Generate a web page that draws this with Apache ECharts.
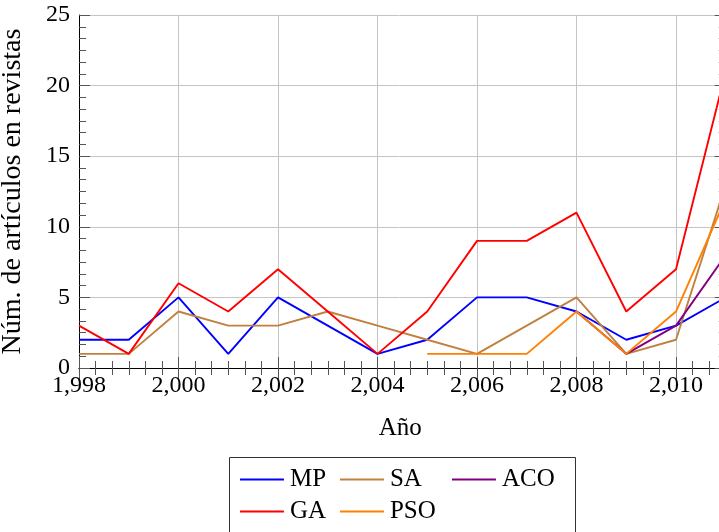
<!DOCTYPE html>
<html><head><meta charset="utf-8">
<script src="https://cdn.jsdelivr.net/npm/echarts@6/dist/echarts.min.js"></script>
<style>html,body{margin:0;padding:0;background:#fff}#c{width:719px;height:532px}</style>
</head><body><div id="c"></div>
<script>
const years = [1998,1999,2000,2001,2002,2003,2004,2005,2006,2007,2008,2009,2010,2011];
const MP  = [2,2,5,1,5,3,1,2,5,5,4,2,3,5];
const SA  = [1,1,4,3,3,4,3,2,1,3,5,1,2,13];
const ACO = [null,null,null,null,null,null,null,null,null,null,4,1,3,8];
const GA  = [3,1,6,4,7,4,1,4,9,9,11,4,7,21];
const PSO = [null,null,null,null,null,null,null,1,1,1,4,1,4,12];
const yTicks = [0,5,10,15,20,25];

const FONT = '"Liberation Serif", "Times New Roman", serif';
const chart = echarts.init(document.getElementById('c'), null, {renderer:'canvas'});
const fmt = v => String(v).replace(/\B(?=(\d{3})+(?!\d))/g, ',');
const mk = (name, arr, color) => ({
  name, type:'line', data: years.map((y,i)=>[y, arr[i]]),
  symbol:'none', lineStyle:{color, width:1.9}, itemStyle:{color},
  connectNulls:false, clip:true, animation:false
});
const tickCommon = {
  axisLine:{show:true, lineStyle:{color:'#000', width:1}},
  axisTick:{show:true, inside:true, length:11, lineStyle:{color:'#555', width:1}},
  minorTick:{show:true, splitNumber:6, length:7, lineStyle:{color:'#555', width:1}}
};
const legendItem = (name, left, top) => ({
  data:[name], left, top, padding:0, itemWidth:44, itemHeight:14, itemGap:0,
  itemStyle:{opacity:0},
  lineStyle:{width:1.9},
  textStyle:{fontFamily:FONT, fontSize:25, color:'#000', padding:[0,0,0,1]},
  selectedMode:false
});
chart.setOption({
  animation:false,
  grid:{left:79, top:15, width:696.5, height:353, show:false, containLabel:false, outerBoundsMode:'none'},
  xAxis:[
    Object.assign({type:'value', min:1998, max:2012, interval:2, position:'bottom',
      name:'Año', nameLocation:'middle', nameGap:48,
      nameTextStyle:{fontFamily:FONT, fontSize:25, color:'#000', padding:[0,54,0,0]},
      axisLabel:{formatter:fmt, fontFamily:FONT, fontSize:24, color:'#000', margin:6},
      splitLine:{show:true, lineStyle:{color:'#c4c4c4', width:1}}}, tickCommon),
    Object.assign({type:'value', min:1998, max:2012, interval:2, position:'top',
      axisLabel:{show:false}, splitLine:{show:false}}, tickCommon)
  ],
  yAxis:[
    Object.assign({type:'value', min:yTicks[0], max:yTicks[yTicks.length-1], interval:5, position:'left',
      name:'Núm. de artículos en revistas', nameLocation:'middle', nameGap:52,
      nameTextStyle:{fontFamily:FONT, fontSize:28, color:'#000'},
      axisLabel:{fontFamily:FONT, fontSize:24, color:'#000', margin:9},
      splitLine:{show:true, lineStyle:{color:'#c4c4c4', width:1}}}, tickCommon),
    Object.assign({type:'value', min:yTicks[0], max:yTicks[yTicks.length-1], interval:5, position:'right',
      offset:-49.75, axisLabel:{show:false}, splitLine:{show:false}}, tickCommon)
  ],
  legend:[
    legendItem('MP', 239, 467),
    legendItem('SA', 339, 467),
    legendItem('ACO', 451, 467),
    legendItem('GA', 239, 499),
    legendItem('PSO', 339, 499)
  ],
  graphic:[{type:'rect', shape:{x:229.5, y:457.5, width:346, height:100},
    style:{fill:'#fff', stroke:'#333', lineWidth:1}, z:-10, silent:true}],
  series:[
    mk('MP', MP, '#0000ff'),
    mk('SA', SA, '#bf8040'),
    mk('ACO', ACO, '#800080'),
    mk('GA', GA, '#ff0000'),
    mk('PSO', PSO, '#ff8000')
  ]
});
</script></body></html>
